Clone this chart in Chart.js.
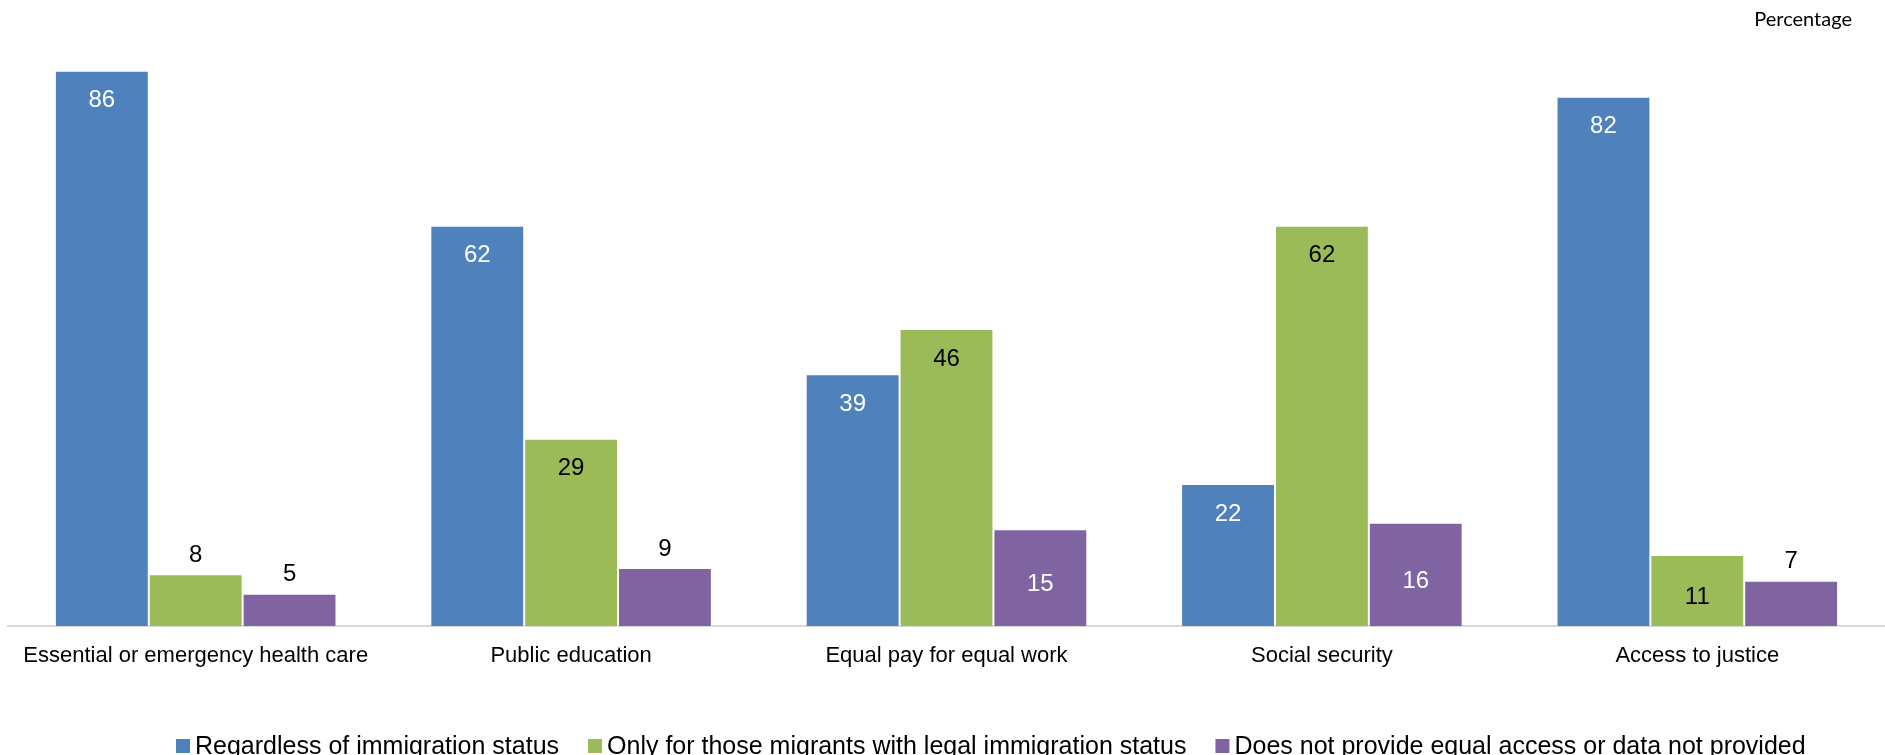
<!DOCTYPE html>
<html>
<head>
<meta charset="utf-8">
<script src="https://cdn.jsdelivr.net/npm/chart.js@4"></script>
<style>
  html, body { margin: 0; padding: 0; background: #ffffff; }
  #wrap { width: 1885px; height: 755px; position: relative; }
</style>
</head>
<body>
<div id="wrap"><canvas id="c" width="1885" height="755"></canvas></div>
<script>
// ---- Data ----
const categories = [
  'Essential or emergency health care',
  'Public education',
  'Equal pay for equal work',
  'Social security',
  'Access to justice'
];
const seriesNames = [
  'Regardless of immigration status',
  'Only for those migrants with legal immigration status',
  'Does not provide equal access or data not provided'
];
const regardless = [86, 62, 39, 22, 82];
const legalOnly  = [8, 29, 46, 62, 11];
const noAccess   = [5, 9, 15, 16, 7];
const unitLabel = 'Percentage';
const yMin = 0;
const yMax = 90;

// ---- Styles ----
const seriesColors = ['#4F81BD', '#9BBB59', '#8064A2'];
const insideLabelColors = ['#FFFFFF', '#000000', '#FFFFFF'];
const FONT = '"Liberation Sans", Arial, sans-serif';

const labelPlugin = {
  id: 'barLabels',
  afterDatasetsDraw(chart) {
    const ctx = chart.ctx;
    ctx.save();
    ctx.font = '24px ' + FONT;
    ctx.textAlign = 'center';
    ctx.textBaseline = 'middle';
    chart.data.datasets.forEach((ds, i) => {
      const meta = chart.getDatasetMeta(i);
      meta.data.forEach((bar, j) => {
        const v = ds.data[j];
        const p = bar.getProps(['x', 'y', 'base'], true);
        let y, color;
        if (v < 10) {
          y = p.y - 19; color = '#000000';
        } else if (v < 20) {
          y = (p.y + p.base) / 2 + 7; color = insideLabelColors[i];
        } else {
          y = p.y + 30; color = insideLabelColors[i];
        }
        ctx.fillStyle = color;
        ctx.fillText(String(v), p.x, y);
      });
    });
    ctx.restore();
  },
  afterDraw(chart) {
    const ctx = chart.ctx;
    ctx.save();
    // unit label
    ctx.font = '20px Lato, "Open Sans", sans-serif';
    ctx.fillStyle = '#000000';
    ctx.textAlign = 'right';
    ctx.textBaseline = 'alphabetic';
    ctx.fillText(unitLabel, 1852, 26);
    // legend
    ctx.font = '25px ' + FONT;
    ctx.textAlign = 'left';
    let x = 176;
    chart.data.datasets.forEach((ds, i) => {
      ctx.fillStyle = seriesColors[i];
      ctx.fillRect(x, 739, 14, 14);
      x += 19;
      ctx.fillStyle = '#000000';
      ctx.fillText(ds.label, x, 754);
      x += ctx.measureText(ds.label).width + 29;
    });
    ctx.restore();
  }
};

const seriesValues = [regardless, legalOnly, noAccess];

new Chart(document.getElementById('c'), {
  type: 'bar',
  data: {
    labels: categories,
    datasets: seriesValues.map((vals, i) => ({
      label: seriesNames[i],
      data: vals,
      backgroundColor: seriesColors[i],
      borderColor: 'rgba(255,255,255,0.55)',
      borderWidth: 1,
      borderSkipped: 'bottom',
      categoryPercentage: 0.75,
      barPercentage: 1.0
    }))
  },
  options: {
    responsive: false,
    animation: false,
    devicePixelRatio: 1,
    layout: { padding: { top: 45, left: 8, right: 0, bottom: 0 } },
    plugins: {
      legend: { display: false },
      tooltip: { enabled: false },
      title: { display: false }
    },
    scales: {
      x: {
        grid: { display: false, drawTicks: false, tickLength: 0 },
        border: { display: true, color: '#D9D9D9', width: 2 },
        ticks: {
          color: '#000000',
          font: { family: FONT, size: 22 },
          padding: 17,
          maxRotation: 0,
          autoSkip: false
        },
        afterFit(scale) { scale.height = 129; }
      },
      y: {
        display: false,
        min: yMin,
        max: yMax
      }
    }
  },
  plugins: [labelPlugin]
});
</script>
</body>
</html>
